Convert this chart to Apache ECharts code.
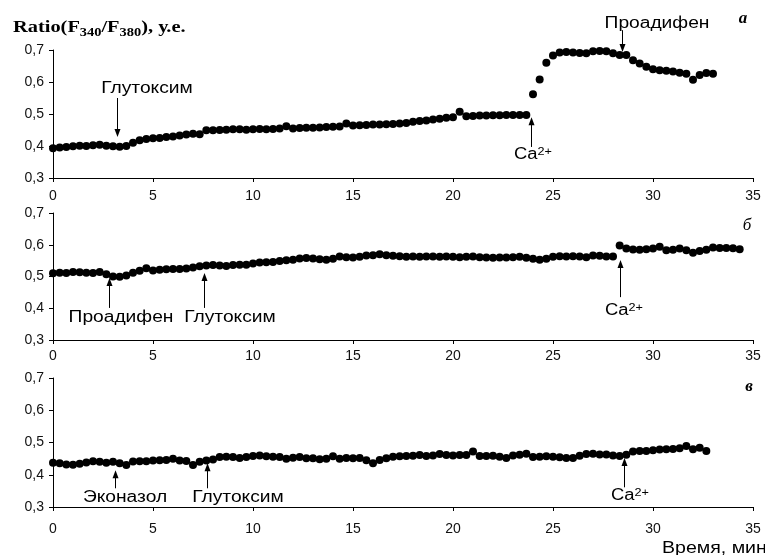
<!DOCTYPE html>
<html>
<head>
<meta charset="utf-8">
<script src="https://cdn.jsdelivr.net/npm/echarts@6/dist/echarts.min.js"></script>
<style>
html,body{margin:0;padding:0;background:#fff;}
#chart{width:765px;height:555px;}
</style>
</head>
<body>
<div id="chart"></div>
<script>
// ---- DATA ----
// sampling interval of the recordings, minutes (20 s)
const sampleStepMin = 1 / 3;

const xTicks = [0, 5, 10, 15, 20, 25, 30, 35];
const yTicks = [0.3, 0.4, 0.5, 0.6, 0.7];

// panel а
const ratioA = [
  0.393,0.395,0.397,0.399,0.401,0.400,0.402,0.404,0.401,0.399,
  0.398,0.400,0.410,0.418,0.422,0.424,0.425,0.428,0.430,0.433,
  0.436,0.438,0.437,0.449,0.449,0.450,0.451,0.452,0.452,0.451,
  0.452,0.453,0.452,0.453,0.455,0.462,0.455,0.456,0.457,0.457,
  0.458,0.459,0.460,0.461,0.470,0.464,0.465,0.466,0.467,0.467,
  0.468,0.469,0.470,0.472,0.476,0.478,0.480,0.483,0.485,0.488,
  0.490,0.507,0.493,0.494,0.495,0.495,0.496,0.496,0.497,0.497,
  0.497,0.497,0.562,0.608,0.660,0.683,0.692,0.694,0.692,0.691,
  0.690,0.696,0.697,0.696,0.690,0.684,0.684,0.668,0.658,0.648,
  0.640,0.637,0.635,0.633,0.629,0.626,0.607,0.622,0.628,0.626
];

// panel б
const ratioB = [
  0.510,0.512,0.511,0.514,0.513,0.512,0.511,0.514,0.507,0.500,
  0.499,0.503,0.512,0.518,0.526,0.519,0.521,0.523,0.524,0.524,
  0.525,0.528,0.532,0.535,0.536,0.535,0.533,0.536,0.537,0.537,
  0.541,0.544,0.545,0.546,0.549,0.551,0.553,0.557,0.558,0.557,
  0.554,0.553,0.556,0.563,0.561,0.560,0.562,0.566,0.567,0.570,
  0.567,0.565,0.564,0.562,0.563,0.562,0.563,0.563,0.562,0.563,
  0.562,0.561,0.562,0.563,0.561,0.560,0.559,0.560,0.560,0.561,
  0.562,0.559,0.556,0.553,0.556,0.562,0.564,0.563,0.564,0.563,
  0.561,0.566,0.565,0.563,0.563,0.598,0.588,0.585,0.584,0.586,
  0.588,0.594,0.583,0.584,0.588,0.583,0.575,0.580,0.584,0.591,
  0.590,0.590,0.589,0.586
];

// panel в
const ratioC = [
  0.437,0.436,0.432,0.431,0.434,0.438,0.442,0.440,0.437,0.440,
  0.436,0.430,0.441,0.442,0.442,0.444,0.445,0.446,0.450,0.444,
  0.443,0.430,0.440,0.444,0.447,0.455,0.456,0.455,0.452,0.455,
  0.458,0.460,0.457,0.456,0.455,0.450,0.453,0.455,0.451,0.451,
  0.448,0.450,0.457,0.450,0.452,0.451,0.452,0.445,0.436,0.446,
  0.451,0.456,0.457,0.458,0.459,0.461,0.458,0.460,0.464,0.461,
  0.460,0.461,0.461,0.472,0.458,0.458,0.459,0.456,0.452,0.460,
  0.462,0.465,0.455,0.456,0.457,0.456,0.454,0.452,0.452,0.459,
  0.464,0.465,0.463,0.463,0.460,0.458,0.462,0.472,0.474,0.474,
  0.476,0.478,0.479,0.480,0.482,0.489,0.479,0.484,0.474
];

// annotations (time of addition, arrow tail/head in ratio units, label position)
const annotA = [
  {text:'Глутоксим', t:3.2,  tail:0.550, head:0.428, lt:4.7, lv:0.578},
  {text:'Проадифен', t:28.45, tail:0.762, head:0.694, lt:30.2, lv:0.781},
  {text:'Ca', sup:'2+', t:23.9, tail:0.397, head:0.490, lt:24.0, lv:0.374}
];
const annotB = [
  {text:'Проадифен', t:2.8,  tail:0.401, head:0.495, lt:3.4, lv:0.369},
  {text:'Глутоксим', t:7.55, tail:0.401, head:0.511, lt:8.85, lv:0.369},
  {text:'Ca', sup:'2+', t:28.35, tail:0.435, head:0.552, lt:28.55, lv:0.394}
];
const annotC = [
  {text:'Эконазол',  t:3.1,  tail:0.358, head:0.414, lt:3.6,  lv:0.330},
  {text:'Глутоксим', t:7.7,  tail:0.358, head:0.436, lt:9.25, lv:0.330},
  {text:'Ca', sup:'2+', t:28.55, tail:0.361, head:0.452, lt:28.85, lv:0.335}
];

const panelLetters = ['а', 'б', 'в'];
const xTitle = 'Время, мин';

// ---- CHART ----
const chart = echarts.init(document.getElementById('chart'), null, {renderer:'canvas'});

const toPoints = arr => arr.map((v, i) => [i * sampleStepMin, v]);
const panels = [ratioA, ratioB, ratioC];
const grids = [
  {left:53, top:50,  width:700, height:128},
  {left:53, top:213, width:700, height:127},
  {left:53, top:378, width:700, height:129}
];
const xLabelMargin = [11, 9, 15];
const FONT = 'Liberation Sans, Arial, sans-serif';
const SERIF = 'Liberation Serif, Times New Roman, serif';

const option = {
  animation:false,
  backgroundColor:'#fff',
  grid: grids,
  xAxis: grids.map((g, k) => ({
    type:'value', gridIndex:k, min:xTicks[0], max:xTicks[xTicks.length-1], interval:5,
    axisLine:{show:true, onZero:false, lineStyle:{color:'#000', width:1}},
    axisTick:{show:true, inside:false, length:4, lineStyle:{color:'#000'}},
    axisLabel:{color:'#111', fontSize:14, fontFamily:FONT, margin:xLabelMargin[k]},
    splitLine:{show:false}
  })),
  yAxis: grids.map((g, k) => ({
    type:'value', gridIndex:k, min:yTicks[0], max:yTicks[yTicks.length-1], interval:0.1,
    axisLine:{show:true, onZero:false, lineStyle:{color:'#000', width:1}},
    axisTick:{show:true, inside:false, length:4, lineStyle:{color:'#000'}},
    axisLabel:{color:'#111', fontSize:14, fontFamily:FONT, margin:9,
      formatter: v => v.toFixed(1).replace('.', ',')},
    splitLine:{show:false}
  })),
  series: panels.map((arr, k) => ({
    type:'scatter', xAxisIndex:k, yAxisIndex:k,
    data: toPoints(arr), symbol:'circle', symbolSize:8,
    itemStyle:{color:'#000', opacity:1}, clip:false
  }))
};
chart.setOption(option);

// annotation graphics placed through the axes' own scales
const gfx = [];
function addAnnot(list, k) {
  list.forEach(a => {
    const tail = chart.convertToPixel({gridIndex:k}, [a.t, a.tail]);
    const head = chart.convertToPixel({gridIndex:k}, [a.t, a.head]);
    const x = Math.round(tail[0]) + 0.5;
    const dir = head[1] > tail[1] ? 1 : -1;
    gfx.push({type:'line', shape:{x1:x, y1:tail[1], x2:x, y2:head[1] - dir*6},
      style:{stroke:'#000', lineWidth:1}});
    gfx.push({type:'polygon', shape:{points:[[x-3, head[1]-dir*8],[x+3, head[1]-dir*8],[x, head[1]]]},
      style:{fill:'#000'}});
    const lp = chart.convertToPixel({gridIndex:k}, [a.lt, a.lv]);
    if (a.sup) {
      gfx.push({type:'text', x:lp[0], y:lp[1], scaleX:1.15,
        style:{text:'{n|' + a.text + '}{s|' + a.sup + '}', textAlign:'center', textVerticalAlign:'middle',
          rich:{n:{fontSize:16, fontFamily:FONT, fill:'#000', verticalAlign:'bottom'},
                s:{fontSize:11, fontFamily:FONT, fill:'#000', verticalAlign:'top'}}}});
    } else {
      gfx.push({type:'text', x:lp[0], y:lp[1], scaleX:1.2,
        style:{text:a.text, font:'16px ' + FONT, fill:'#000', textAlign:'center', textVerticalAlign:'middle'}});
    }
  });
}
addAnnot(annotA, 0);
addAnnot(annotB, 1);
addAnnot(annotC, 2);

// title
gfx.push({type:'text', x:13, y:29, scaleX:1.2,
  style:{text:'{b|Ratio(F}{s|340}{b|/F}{s|380}{b|), у.е.}', textVerticalAlign:'middle',
    rich:{b:{fontSize:17, fontWeight:'bold', fontFamily:SERIF, fill:'#000', verticalAlign:'top', lineHeight:20},
          s:{fontSize:12, fontWeight:'bold', fontFamily:SERIF, fill:'#000', verticalAlign:'bottom', lineHeight:20}}}});
// panel letters
const letterPos = [[743, 19, 'bold italic'], [747, 226, 'italic'], [749, 387, 'bold italic']];
panelLetters.forEach((L, k) => {
  gfx.push({type:'text', x:letterPos[k][0], y:letterPos[k][1],
    style:{text:L, font:letterPos[k][2] + ' 17px ' + SERIF, fill:'#000',
      textAlign:'center', textVerticalAlign:'middle'}});
});
// x title
gfx.push({type:'text', x:662, y:548, scaleX:1.15,
  style:{text:xTitle, font:'17px ' + FONT, fill:'#000', textAlign:'left', textVerticalAlign:'middle'}});

chart.setOption({graphic: gfx});
</script>
</body>
</html>
